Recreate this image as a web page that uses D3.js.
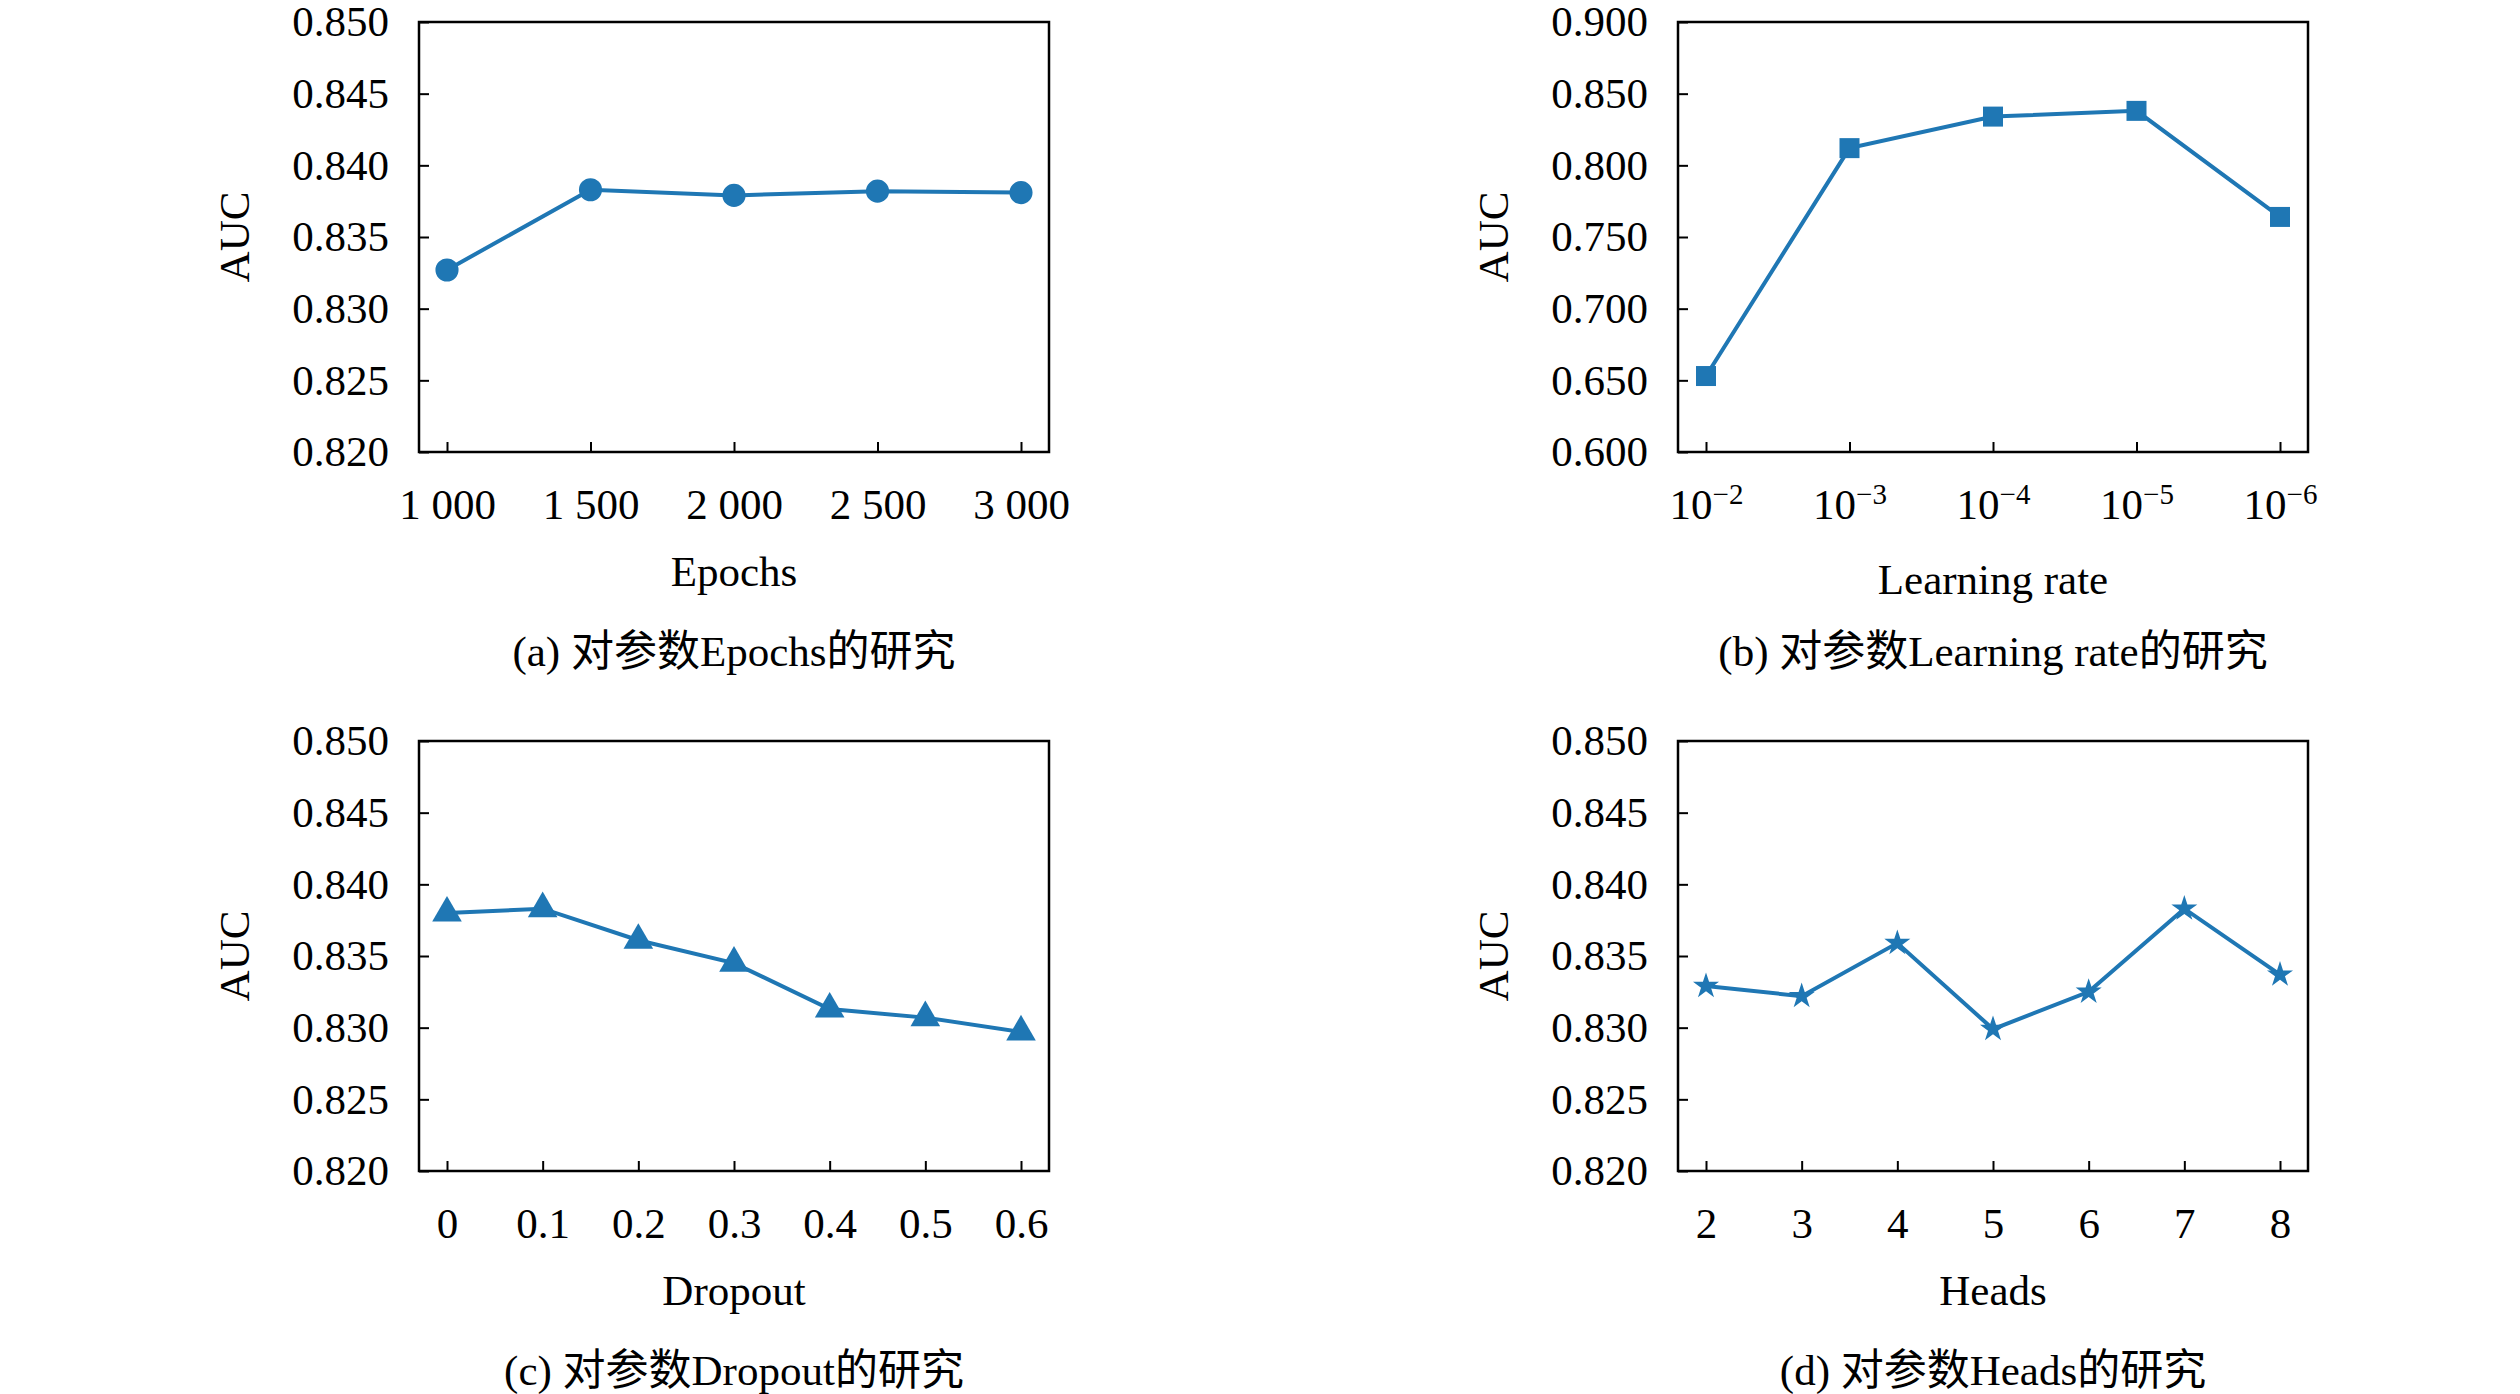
<!DOCTYPE html>
<html><head><meta charset="utf-8">
<script src="https://cdn.jsdelivr.net/npm/d3@7"></script>
<style>
body{margin:0;background:#fff}
text{font-family:"Liberation Serif","DejaVu Serif",serif;fill:#000}
.cjk{font-family:"Liberation Serif","Noto Sans CJK SC",serif}
</style></head><body>
<svg id="chart" width="2520" height="1394"></svg>
<script>
const epochs = ["1 000", "1 500", "2 000", "2 500", "3 000"];
const epochsAuc = [0.8327, 0.8383, 0.8379, 0.8382, 0.8381];
const lrExp = ["2", "3", "4", "5", "6"];
const lrAuc = [0.653, 0.812, 0.834, 0.838, 0.764];
const dropout = ["0", "0.1", "0.2", "0.3", "0.4", "0.5", "0.6"];
const dropoutAuc = [0.838, 0.8383, 0.8361, 0.8345, 0.8313, 0.8307, 0.8297];
const heads = ["2", "3", "4", "5", "6", "7", "8"];
const headsAuc = [0.8329, 0.8322, 0.8359, 0.8299, 0.8325, 0.8383, 0.8337];
const yTicksSmall = [0.820, 0.825, 0.830, 0.835, 0.840, 0.845, 0.850];
const yTicksLr = [0.600, 0.650, 0.700, 0.750, 0.800, 0.850, 0.900];

const color = "#1f77b4";
const svg = d3.select("#chart");

const panels = [
  {x: 419, y: 22, cats: epochs, vals: epochsAuc, ticks: yTicksSmall, symbol: d3.symbolCircle, size: 420,
   xlabel: "Epochs", caption: "(a) 对参数Epochs的研究"},
  {x: 1678, y: 22, cats: lrExp, vals: lrAuc, ticks: yTicksLr, symbol: d3.symbolSquare, size: 400, sup: true,
   xlabel: "Learning rate", caption: "(b) 对参数Learning rate的研究"},
  {x: 419, y: 741, cats: dropout, vals: dropoutAuc, ticks: yTicksSmall, symbol: d3.symbolTriangle, size: 380,
   xlabel: "Dropout", caption: "(c) 对参数Dropout的研究"},
  {x: 1678, y: 741, cats: heads, vals: headsAuc, ticks: yTicksSmall, symbol: d3.symbolStar, size: 210,
   xlabel: "Heads", caption: "(d) 对参数Heads的研究"}
];

const W = 630, H = 430;

panels.forEach((p) => {
  const g = svg.append("g").attr("transform", `translate(${p.x},${p.y})`);
  const x = d3.scalePoint().domain(p.cats).range([28, W - 28]);
  const y = d3.scaleLinear().domain(d3.extent(p.ticks)).range([H, 0]);

  const yAxis = g.append("g").call(d3.axisLeft(y).tickValues(p.ticks).tickFormat(d3.format(".3f")).tickSize(-10).tickPadding(30));
  yAxis.select(".domain").remove();
  yAxis.selectAll("line").attr("stroke-width", 2);
  yAxis.selectAll("text").attr("font-size", 43);

  const xAxis = g.append("g").attr("transform", `translate(0,${H})`)
    .call(d3.axisBottom(x).tickSize(-10).tickPadding(36).tickFormat(p.sup ? () => "" : (d) => d));
  xAxis.select(".domain").remove();
  xAxis.selectAll("line").attr("stroke-width", 2);
  xAxis.selectAll("text").attr("font-size", 43);
  if (p.sup) {
    xAxis.selectAll(".tick text").each(function (d) {
      const t = d3.select(this);
      t.append("tspan").text("10");
      t.append("tspan").attr("dy", -15).attr("font-size", 29).text("−" + d);
    });
  }

  g.append("rect").attr("width", W).attr("height", H)
    .attr("fill", "none").attr("stroke", "#000").attr("stroke-width", 2.5);

  const line = d3.line().x((d, i) => x(p.cats[i])).y((d) => y(d));
  g.append("path").datum(p.vals).attr("d", line)
    .attr("fill", "none").attr("stroke", color).attr("stroke-width", 4);
  g.selectAll(".pt").data(p.vals).join("path")
    .attr("transform", (d, i) => `translate(${x(p.cats[i])},${y(d)})`)
    .attr("d", d3.symbol(p.symbol, p.size)).attr("fill", color);

  g.append("text").attr("transform", `translate(-170,${H / 2}) rotate(-90)`)
    .attr("text-anchor", "middle").attr("font-size", 43).text("AUC");
  g.append("text").attr("x", W / 2).attr("y", H + (p.sup ? 142 : 134))
    .attr("text-anchor", "middle").attr("font-size", 43).text(p.xlabel);
  g.append("text").attr("class", "cjk").attr("x", W / 2).attr("y", H + 214)
    .attr("text-anchor", "middle").attr("font-size", 43).text(p.caption);
});
</script>
</body></html>
